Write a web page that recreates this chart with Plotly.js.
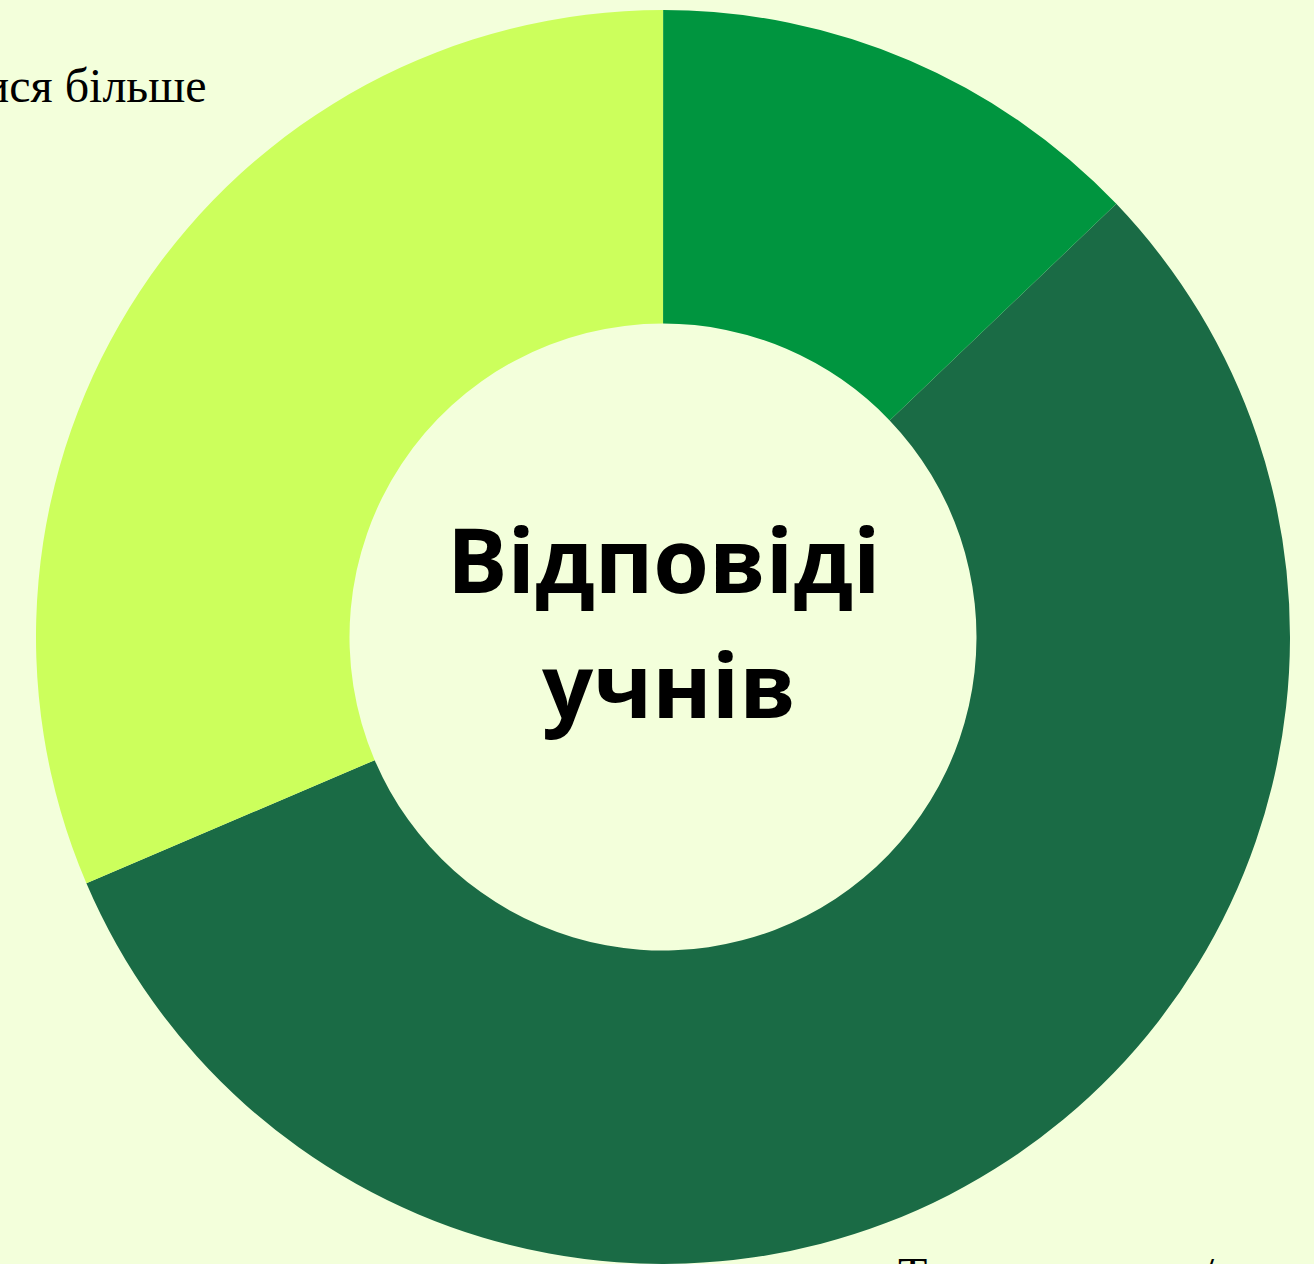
<!DOCTYPE html>
<html>
<head>
<meta charset="utf-8">
<script src="https://cdn.plot.ly/plotly-3.0.1.min.js"></script>
<style>
  html, body { margin: 0; padding: 0; background: #F3FFDB; }
  #chart { width: 1314px; height: 1264px; }
</style>
</head>
<body>
<div id="chart"></div>
<script>
// Data
const labels = ["Так, усе гарно / подобається", "Хочу займатися більше", "Ні"];
const values = [39, 22, 9];
const colors = ["#1A6B45", "#CCFF5C", "#00953F"];
const centerTitleLines = ["Відповіді", "учнів"];

const trace = {
  type: "pie",
  labels: labels,
  values: values,
  hole: 0.5,
  sort: false,
  direction: "clockwise",
  rotation: 46.3,
  marker: { colors: colors, line: { width: 0 } },
  textinfo: "none",
  automargin: false,
  showlegend: false,
  hoverinfo: "label+value+percent"
};

const labelFont = { family: "Liberation Serif, Times New Roman, serif", size: 48, color: "#000" };
const titleFont = { family: "Open Sans, Noto Sans, sans-serif", size: 90, color: "#000" };

const layout = {
  width: 1314,
  height: 1264,
  margin: { l: 12, r: 0, t: 10, b: 0 },
  paper_bgcolor: "#F3FFDB",
  plot_bgcolor: "#F3FFDB",
  showlegend: false,
  annotations: [
    { text: "<b>" + centerTitleLines[0] + "</b>", x: 0.5, y: 0.5, xref: "paper", yref: "paper",
      xanchor: "center", yanchor: "middle", yshift: 79, showarrow: false, font: titleFont },
    { text: "<b>" + centerTitleLines[1] + "</b>", x: 0.5, y: 0.5, xref: "paper", yref: "paper",
      xanchor: "center", yanchor: "middle", xshift: 6, yshift: -46, showarrow: false, font: titleFont },
    { text: labels[1], x: 0, y: 1, xref: "paper", yref: "paper",
      xanchor: "right", yanchor: "middle", xshift: 197, yshift: -75, showarrow: false, font: labelFont },
    { text: labels[0], x: 0, y: 0, xref: "paper", yref: "paper",
      xanchor: "left", yanchor: "middle", xshift: 884, yshift: -10, showarrow: false, font: labelFont }
  ]
};

Plotly.newPlot("chart", [trace], layout, { displayModeBar: false });
</script>
</body>
</html>
